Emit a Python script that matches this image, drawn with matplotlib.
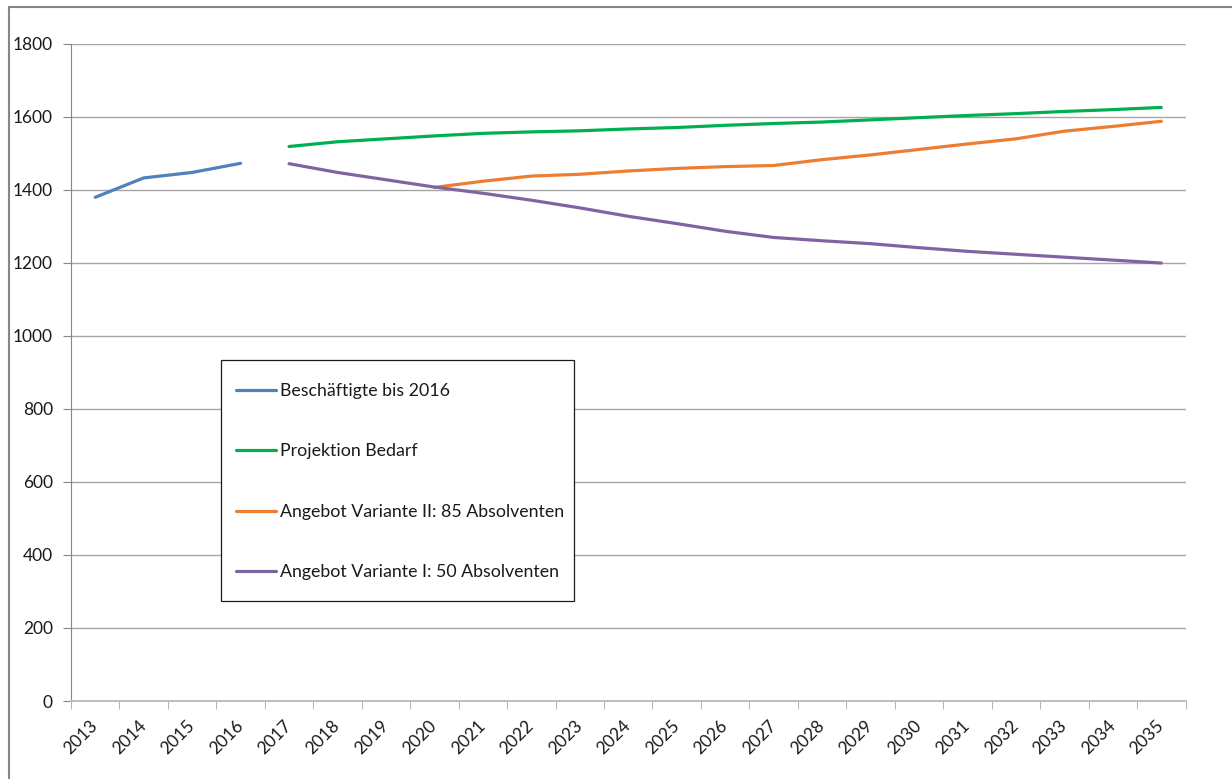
import matplotlib.pyplot as plt
from matplotlib.patches import Rectangle

plt.rcParams['font.family'] = ['Lato', 'DejaVu Sans']

years = [str(y) for y in range(2013, 2036)]

# Beschäftigte 2013-2016
beschaeftigte = [1379, 1432, 1447, 1472]
# Projektion Bedarf 2017-2035
bedarf = [1518, 1531, 1539, 1547, 1554, 1558, 1561, 1566, 1570, 1576,
          1581, 1585, 1591, 1597, 1603, 1608, 1614, 1619, 1625]
# Angebot Variante II 2020-2035
angebot_85 = [1406, 1423, 1437, 1442, 1451, 1458, 1463, 1466, 1482,
              1495, 1510, 1525, 1539, 1560, 1573, 1587]
# Angebot Variante I 2017-2035
angebot_50 = [1471, 1447, 1427, 1407, 1390, 1371, 1350, 1327, 1307, 1286,
              1269, 1260, 1252, 1241, 1231, 1223, 1215, 1207, 1199]

labels = ['Beschäftigte bis 2016', 'Projektion Bedarf',
          'Angebot Variante II: 85 Absolventen',
          'Angebot Variante I: 50 Absolventen']
colors = ['#4f81bd', '#00b050', '#ed7d31', '#8064a2']

W, H = 1232, 779
fig = plt.figure(figsize=(W / 100, H / 100), dpi=100)
ax_l, ax_r, ax_t, ax_b = 71, 1185.5, 43.5, 701
ax = fig.add_axes([ax_l / W, 1 - ax_b / H, (ax_r - ax_l) / W, (ax_b - ax_t) / H])


def px2ax(px, py):
    # Pixel (von oben links) -> Achsenkoordinaten
    return (px - ax_l) / (ax_r - ax_l), (ax_b - py) / (ax_b - ax_t)


x_all = list(range(len(years)))
lw = 2.3
ax.plot(x_all[0:4], beschaeftigte, color=colors[0], lw=lw, label=labels[0], solid_capstyle='round')
ax.plot(x_all[4:], bedarf, color=colors[1], lw=lw, label=labels[1], solid_capstyle='round')
ax.plot(x_all[7:], angebot_85, color=colors[2], lw=lw, label=labels[2], solid_capstyle='round')
ax.plot(x_all[4:], angebot_50, color=colors[3], lw=lw, label=labels[3], solid_capstyle='round')

ax.set_xlim(-0.5, len(years) - 0.5)
ax.set_ylim(0, 1800)
ax.set_yticks(range(0, 1801, 200))
ax.set_xticks(x_all)
ax.set_xticklabels(years, rotation=45, ha='right', va='center', rotation_mode='anchor',
                   fontsize=12.5, color='#1a1a1a')
ax.tick_params(axis='x', length=0, pad=16)
# Kategoriegrenzen als Teilstriche
ax.set_xticks([i - 0.5 for i in range(len(years) + 1)], minor=True)
ax.tick_params(axis='x', which='minor', length=6, color='#a6a6a6', direction='out')
ax.tick_params(axis='y', length=6, color='#868686', direction='out', labelsize=12.5,
               labelcolor='#1a1a1a', pad=7)

ax.grid(axis='y', color='#a6a6a6', lw=1)
ax.set_axisbelow(True)
for side in ['top', 'right']:
    ax.spines[side].set_visible(False)
ax.spines['left'].set_color('#868686')
ax.spines['bottom'].set_color('#bfbfbf')
ax.spines['bottom'].set_linewidth(1.5)

# Legende ohne eigenen Rahmen, Rahmen separat
leg = ax.legend(loc='upper left', bbox_to_anchor=px2ax(236, 383),
                fontsize=12.8, frameon=False, labelspacing=2.5, handlelength=2.25,
                handletextpad=0.25, borderpad=0, borderaxespad=0)
for t in leg.get_texts():
    t.set_color('#1a1a1a')
leg.set_zorder(5)
x0, y1 = px2ax(221, 601)
x1, y0 = px2ax(574, 360)
ax.add_patch(Rectangle((x0, y1), x1 - x0, y0 - y1, transform=ax.transAxes,
                       facecolor='white', edgecolor='#1a1a1a', lw=0.9, zorder=4))

# Rahmen des Diagrammbereichs
fig.patches.append(Rectangle((9 / W, -0.05), 1.1, 1 - 7 / H + 0.05,
                             transform=fig.transFigure, fill=False,
                             edgecolor='#868686', lw=1.5))

fig.savefig('out.png', dpi=100)
